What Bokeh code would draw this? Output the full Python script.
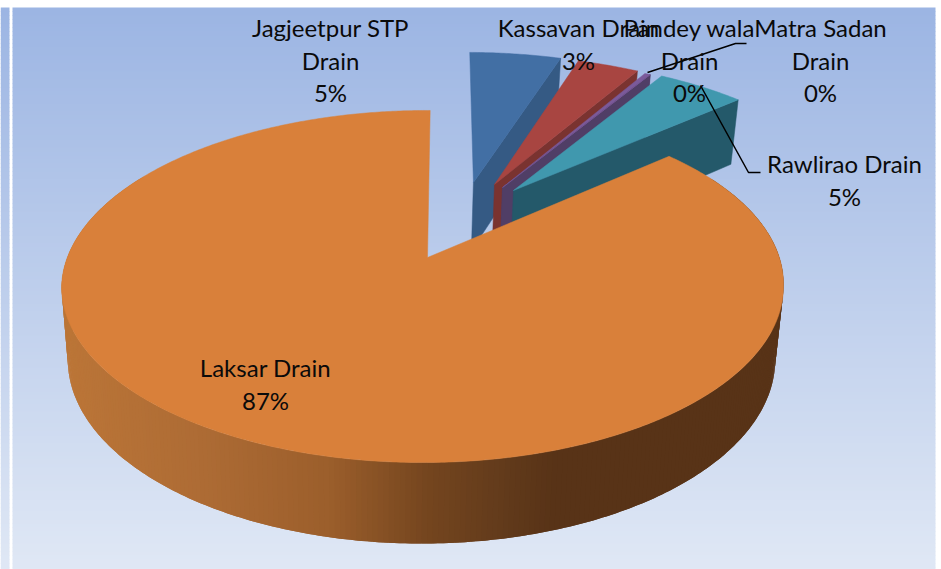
import numpy as np
from bokeh.plotting import figure
from bokeh.models import Range1d
from bokeh.core.properties import value
from bokeh.embed import file_html
from bokeh.resources import INLINE

# --- data
categories = ["Jagjeetpur STP Drain", "Kassavan Drain", "Pandey wala Drain", "Matra Sadan Drain", "Rawlirao Drain", "Laksar Drain"]
shares = [5.0, 3.4, 0.3, 0.02, 4.78, 86.5]
percent_labels = ["5%", "3%", "0%", "0%", "5%", "87%"]

# --- style
top_colors = ["#426FA4", "#A84541", "#7B5A9A", "#7B5A9A", "#4098AE", "#D9803A"]
cut_colors = ["#355A84", "#7A3330", "#503E66", "#503E66", "#24596A", "#583317"]
FONT = value("Lato")
FS = "24px"

# projection of the pie disc onto the page
AX, AY, K, D, RX = 427.0, 257.0, 0.1648, 128.9, 356.0
START = 0.5


def project(u, v):
    w = 1 + K * v
    return AX + RX * u / w, (AY - D * v) / w


def lower(x, y):
    return 421 + (x - 422) * 0.98, y + 65 + 16 * (y - 110) / 352


def rim(deg, ox, oy, lean=0.0, r=1.0):
    t = np.radians(deg)
    x, y = project(ox + r * np.sin(t), oy + r * np.cos(t))
    return x - lean * np.clip((y - 110) / 177, 0, 1), y


explode = [(0.139, 0.472), (0.2024, 0.4586), (0.226, 0.438), (0.226, 0.438), (0.258, 0.418), (0.0, 0.0)]
leans = [0, 0, 0, 0, 0, 5]
radii = [1.02, 1.01, 1.01, 1.01, 1.02, 1.0]

p = figure(width=941, height=569, output_backend="svg", toolbar_location=None,
           x_range=Range1d(0, 941), y_range=Range1d(569, 0), min_border=0,
           outline_line_color=None, background_fill_color="white", border_fill_color="white")
p.axis.visible = False
p.grid.visible = False

# background gradient
c0, c1 = np.array([156, 181, 227]), np.array([224, 232, 245])
for y0 in range(7, 569, 4):
    f = (y0 - 7) / 562
    c = tuple(int(round(a + (b - a) * f)) for a, b in zip(c0, c1))
    col = "#%02x%02x%02x" % c
    for xa, xb in ((0, 9), (12, 935)):
        p.quad(left=xa, right=xb, top=y0, bottom=y0 + 4.5, fill_color=col, line_color=None)

# slices, far to near
edges = START + np.cumsum([0] + shares) * 3.6
for i in range(len(shares)):
    a0, a1 = edges[i], edges[i + 1]
    ox, oy = explode[i]
    ang = np.linspace(a0, a1, max(3, int((a1 - a0) * 2)))
    rx, ry = rim(ang, ox, oy, leans[i], radii[i])
    ax, ay = project(ox, oy)
    if i < 5:
        bax, bay = lower(ax, ay)
        bex, bey = lower(rx[-1], ry[-1])
        p.patch([ax, rx[-1], bex, bax], [ay, ry[-1], bey, bay], fill_color=cut_colors[i], line_color=cut_colors[i], line_width=0.5)
    else:
        stops_x = [61, 200, 330, 430, 500, 560, 783]
        stops = np.array([[188, 118, 56], [174, 108, 53], [156, 95, 44], [117, 70, 31], [100, 60, 28], [88, 51, 23], [88, 51, 23]])
        # near-side wall, painted in overlapping pieces
        for d0 in np.arange(60, 300, 0.75):
            sweep = np.linspace(d0, d0 + 1.5, 3)
            qx, qy = rim(sweep, ox, oy, leans[i], radii[i])
            bx, by = lower(qx, qy)
            col = "#%02x%02x%02x" % tuple(int(np.interp(float(qx[0]), stops_x, stops[:, j])) for j in range(3))
            p.patch([*qx, *bx[::-1]], [*qy, *by[::-1]], fill_color=col, line_color=None)
    p.patch([ax, *rx], [ay, *ry], fill_color=top_colors[i], line_color=top_colors[i], line_width=0.5)

# leader lines
p.line([746, 735, 647], [43, 43, 72], line_color="black", line_width=1.5)
p.line([760, 748, 700], [172, 172, 85], line_color="black", line_width=1.5)

# labels
words = [["Jagjeetpur STP", "Drain"], ["Kassavan Drain"], ["Pandey wala", "Drain"], ["Matra Sadan", "Drain"], ["Rawlirao Drain"], ["Laksar Drain"]]
lab_x = [330, 578, 689, 820, 844, 265]
lab_y = [27, 27, 27, 27, 163, 367]
for i, w in enumerate(words):
    lines = w + [percent_labels[i]]
    for j, t in enumerate(lines):
        p.text(x=[lab_x[i]], y=[lab_y[i] + 32.5 * j], text=[t], text_font=FONT, text_font_size=FS,
               text_align="center", text_baseline="middle", text_color="#0a0a0a")

open("out.html", "w").write(file_html(p, INLINE))
